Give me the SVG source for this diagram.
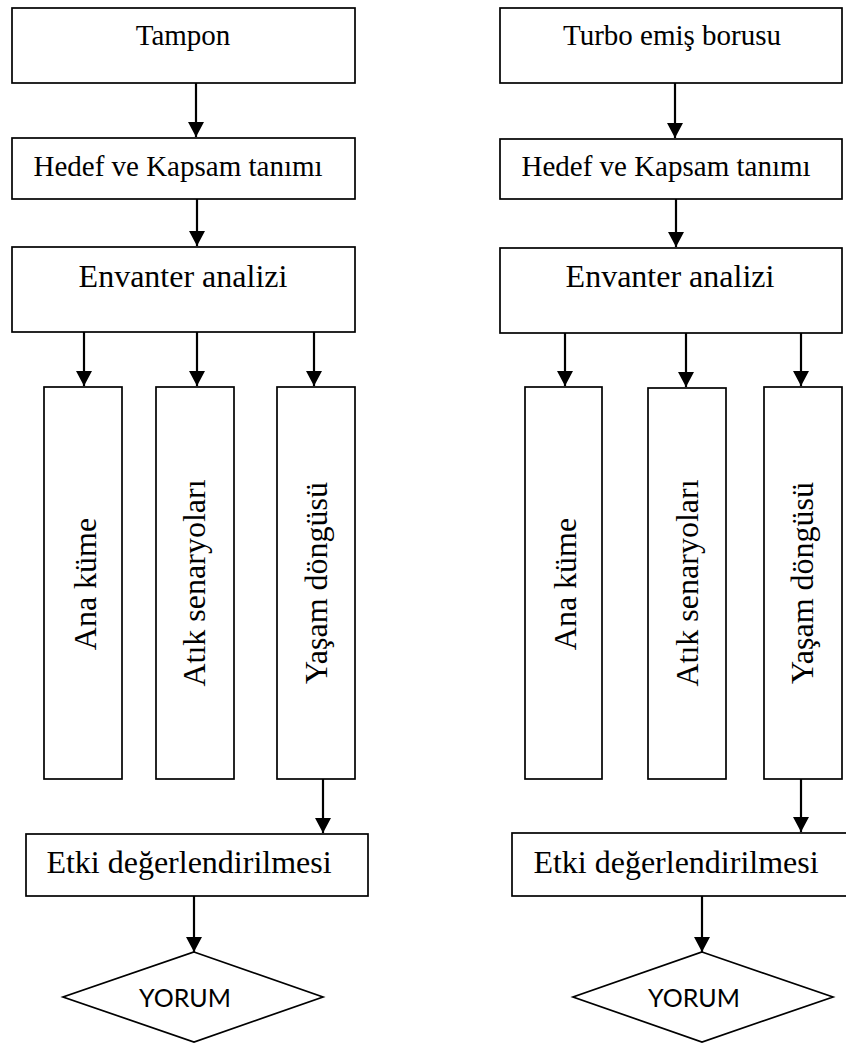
<svg xmlns="http://www.w3.org/2000/svg" width="846" height="1043" viewBox="0 0 846 1043">
  <style>
    .box { fill: #fff; stroke: #000; stroke-width: 1.7; }
    .t29 { font-family: "Liberation Serif", "Times New Roman", serif; font-size: 29px; fill: #000; text-anchor: middle; }
    .t32 { font-family: "Liberation Serif", "Times New Roman", serif; font-size: 32px; fill: #000; text-anchor: middle; }
    .sans { font-family: Lato, "Open Sans", "Liberation Sans", sans-serif; font-size: 25px; fill: #000; text-anchor: middle; }
    .link { fill: none; stroke: #000; stroke-width: 2.2; marker-end: url(#arrow); }
  </style>
  <defs>
    <marker id="arrow" viewBox="0 0 15 16" refX="15" refY="8" markerWidth="15" markerHeight="16" markerUnits="userSpaceOnUse" orient="auto">
      <path d="M0,0 L15,8 L0,16 Z" fill="#000"/>
    </marker>
  </defs>
  <rect width="846" height="1043" fill="#fff"/>

  <!-- Left flow: Tampon -->
  <g id="l-tampon">
    <rect class="box" x="12" y="8" width="343" height="75"/>
    <text class="t29" x="183" y="45">Tampon</text>
  </g>
  <g id="l-hedef">
    <rect class="box" x="12" y="138" width="343" height="61"/>
    <text class="t29" x="178" y="176">Hedef ve Kapsam tanımı</text>
  </g>
  <g id="l-envanter">
    <rect class="box" x="12" y="247" width="343" height="85"/>
    <text class="t32" x="183" y="287">Envanter analizi</text>
  </g>
  <g id="l-ana">
    <rect class="box" x="44" y="387" width="78" height="392"/>
    <text class="t32" transform="translate(96 584) rotate(-90)">Ana küme</text>
  </g>
  <g id="l-atik">
    <rect class="box" x="156" y="387" width="78" height="392"/>
    <text class="t32" transform="translate(205 583) rotate(-90)">Atık senaryoları</text>
  </g>
  <g id="l-yasam">
    <rect class="box" x="277" y="387" width="78" height="392"/>
    <text class="t32" transform="translate(327 583) rotate(-90)">Yaşam döngüsü</text>
  </g>
  <g id="l-etki">
    <rect class="box" x="26" y="834" width="342" height="62"/>
    <text class="t32" x="189" y="873">Etki değerlendirilmesi</text>
  </g>
  <g id="l-yorum">
    <polygon class="box" points="194,952 323,997 194,1042 63,997"/>
    <text class="sans" x="185" y="1007">YORUM</text>
  </g>

  <!-- Right flow: Turbo emiş borusu -->
  <g id="r-turbo">
    <rect class="box" x="500" y="8" width="342" height="75"/>
    <text class="t29" x="672" y="45">Turbo emiş borusu</text>
  </g>
  <g id="r-hedef">
    <rect class="box" x="500" y="139" width="342" height="60"/>
    <text class="t29" x="666" y="176">Hedef ve Kapsam tanımı</text>
  </g>
  <g id="r-envanter">
    <rect class="box" x="500" y="248" width="342" height="85"/>
    <text class="t32" x="670" y="287">Envanter analizi</text>
  </g>
  <g id="r-ana">
    <rect class="box" x="525" y="387" width="77" height="392"/>
    <text class="t32" transform="translate(576 584) rotate(-90)">Ana küme</text>
  </g>
  <g id="r-atik">
    <rect class="box" x="648" y="388" width="78" height="391"/>
    <text class="t32" transform="translate(698 583) rotate(-90)">Atık senaryoları</text>
  </g>
  <g id="r-yasam">
    <rect class="box" x="764" y="387" width="78" height="392"/>
    <text class="t32" transform="translate(813 583) rotate(-90)">Yaşam döngüsü</text>
  </g>
  <g id="r-etki">
    <rect class="box" x="512" y="833" width="340" height="63"/>
    <text class="t32" x="676" y="873">Etki değerlendirilmesi</text>
  </g>
  <g id="r-yorum">
    <polygon class="box" points="702,952 833,997 702,1042 573,997"/>
    <text class="sans" x="694" y="1007">YORUM</text>
  </g>

  <!-- Connectors -->
  <g id="connectors">
    <line class="link" x1="196" y1="83" x2="196" y2="137"/>
    <line class="link" x1="197" y1="199" x2="197" y2="246"/>
    <line class="link" x1="84" y1="332" x2="84" y2="386"/>
    <line class="link" x1="197" y1="332" x2="197" y2="386"/>
    <line class="link" x1="314" y1="332" x2="314" y2="386"/>
    <line class="link" x1="323" y1="779" x2="323" y2="833"/>
    <line class="link" x1="194" y1="896" x2="194" y2="952"/>

    <line class="link" x1="675" y1="83" x2="675" y2="138"/>
    <line class="link" x1="676" y1="199" x2="676" y2="247"/>
    <line class="link" x1="565" y1="333" x2="565" y2="386"/>
    <line class="link" x1="686" y1="333" x2="686" y2="387"/>
    <line class="link" x1="801" y1="333" x2="801" y2="386"/>
    <line class="link" x1="801" y1="779" x2="801" y2="832"/>
    <line class="link" x1="702" y1="896" x2="702" y2="952"/>
  </g>
</svg>
